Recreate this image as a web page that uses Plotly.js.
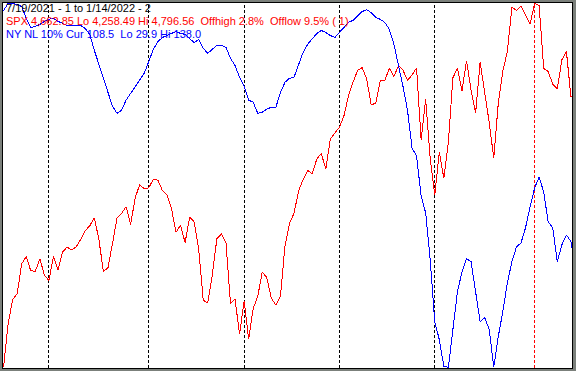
<!DOCTYPE html>
<html>
<head>
<meta charset="utf-8">
<script src="https://cdn.plot.ly/plotly-3.0.1.min.js"></script>
<style>html,body{margin:0;padding:0;background:#7b807b;}#chart{width:576px;height:371px;}
#chart .scatterlayer path, #chart .shapelayer path{shape-rendering:crispEdges;}</style>
</head>
<body>
<div id="chart"></div>
<script>
// S&P 500 daily closes, 7/19/2021 .. 1/14/2022 (one value per trading day)
const spx = [
  4258.49, 4323.06, 4358.69, 4367.48, 4411.79, 4422.30, 4401.46, 4400.64, 4419.15, 4395.26,
  4387.16, 4423.15, 4402.66, 4429.10, 4436.52, 4432.35, 4436.75, 4447.70, 4460.83, 4468.00,
  4479.71, 4448.08, 4400.27, 4405.80, 4441.67, 4479.53, 4486.23, 4496.19, 4470.00, 4509.37,
  4528.79, 4522.68,
  4524.09, 4536.95, 4535.43, 4520.03, 4514.07, 4493.28, 4458.58, 4468.73, 4443.05, 4480.70,
  4473.75, 4432.99, 4357.73, 4354.19, 4395.64, 4448.98, 4455.48, 4443.11, 4352.63, 4359.46,
  4307.54,
  4357.04, 4300.46, 4345.72, 4363.55, 4399.76, 4391.34, 4361.19, 4350.65, 4363.80, 4438.26,
  4471.37, 4486.46, 4519.63, 4536.19, 4549.78, 4544.90, 4566.48, 4574.79, 4551.68, 4596.42,
  4605.38,
  4613.67, 4630.65, 4660.57, 4680.06, 4697.53, 4701.70, 4685.25, 4646.71, 4649.27, 4682.85,
  4682.80, 4700.90, 4688.67, 4704.54, 4697.96, 4682.94, 4690.70, 4701.46, 4594.62, 4655.27,
  4567.00,
  4513.04, 4577.10, 4538.43, 4591.67, 4686.75, 4701.21, 4667.45, 4712.02, 4668.97, 4634.09,
  4709.85, 4668.67, 4620.64, 4568.02, 4649.23, 4696.56, 4725.79, 4791.19, 4786.35, 4793.06,
  4778.73, 4766.18,
  4796.56, 4793.54, 4700.58, 4696.05, 4677.03, 4670.29, 4713.07, 4726.35, 4659.03, 4662.85
];
// NYSE new lows, 10% smoothing (plotted on an inverted scale)
const nyNL = [
  32.0, 29.9, 29.9, 30.2, 30.8, 34.3, 37.0, 36.7, 36.1, 35.2,
  34.6, 34.3, 35.2, 35.8, 36.4, 36.4, 36.4, 36.4, 37.3, 39.1,
  43.8, 48.0, 51.8, 56.3, 60.4, 62.5, 61.6, 58.6, 56.6, 54.8,
  52.7, 50.6, 47.1, 43.5, 41.2, 40.0, 39.4, 38.8, 38.2, 38.8,
  39.1, 40.3, 41.5, 40.6, 43.2, 44.7, 43.5, 42.3, 42.3, 42.9,
  46.2, 48.3, 51.8, 54.5, 58.6, 59.2, 62.5, 62.2, 61.3, 60.7,
  60.7, 56.3, 53.3, 52.1, 51.8, 48.3, 44.4, 42.0, 40.3, 38.8,
  37.9, 38.5, 39.4, 40.0, 38.5, 37.0, 35.5, 34.9, 33.5, 32.3,
  31.7, 32.6, 34.0, 34.6, 35.5, 37.6, 42.0, 48.0, 54.5, 61.6,
  72.8, 75.2, 87.1, 92.1, 106.0, 124.4, 129.7, 137.6, 138.0, 126.7,
  115.5, 109.6, 105.7, 106.6, 114.9, 124.4, 123.2, 126.7, 137.9, 128.8,
  121.4, 112.8, 106.6, 102.2, 101.0, 96.5, 90.3, 84.7, 81.4, 85.9,
  94.8, 96.5, 106.6, 101.6, 98.6, 100.6, 108.5
];
// first trading day of each month (index into the series)
const monthStarts = [10, 32, 53, 74, 95];
const yearStarts = [117];

const headerLines = [
  {text: '7/19/2021 - 1 to 1/14/2022 - 2', color: '#000000'},
  {text: 'SPX 4,662.85 Lo 4,258.49 Hi 4,796.56  Offhigh 2.8%  Offlow 9.5% ( 1)', color: '#ff0000'},
  {text: 'NY NL 10% Cur 108.5  Lo 29.9 Hi 138.0', color: '#0000ff'}
];

const idx = spx.map((_, i) => i);

const traces = [
  {x: idx, y: nyNL, yaxis: 'y2', type: 'scatter', mode: 'lines',
   line: {color: '#0000ff', width: 1}, hoverinfo: 'skip'},
  {x: idx, y: spx, yaxis: 'y', type: 'scatter', mode: 'lines',
   line: {color: '#ff0000', width: 1}, hoverinfo: 'skip'}
];

const shapes = [];
monthStarts.forEach(m => shapes.push({type: 'line', xref: 'x', yref: 'paper', x0: m, x1: m, y0: 0, y1: 1,
  line: {color: '#000000', width: 1, dash: '3px,2px'}, layer: 'below'}));
yearStarts.forEach(m => shapes.push({type: 'line', xref: 'x', yref: 'paper', x0: m, x1: m, y0: 0, y1: 1,
  line: {color: '#ff0000', width: 1, dash: '3px,2px'}, layer: 'below'}));

const H = 365, T = 3;
const annotations = headerLines.map((l, k) => ({
  xref: 'paper', yref: 'paper', x: 2 / 569, xanchor: 'left',
  y: 1 - (1 + k * 13.2 - T) / H, yanchor: 'top',
  text: l.text, showarrow: false, borderpad: 0,
  font: {family: 'Liberation Sans, Arial, sans-serif', size: 11, color: l.color}
}));

const axisStyle = {showline: true, mirror: true, linecolor: '#000000', linewidth: 1,
  showgrid: false, zeroline: false, showticklabels: false, ticks: '', fixedrange: true};

const layout = {
  width: 576, height: 371,
  margin: {l: 3, r: 4, t: 3, b: 3, pad: 0},
  paper_bgcolor: '#7b807b', plot_bgcolor: '#ffffff',
  showlegend: false,
  xaxis: Object.assign({range: [-0.121, 125.24]}, axisStyle),
  yaxis: Object.assign({range: [4257.75, 4797.30]}, axisStyle),
  yaxis2: {overlaying: 'y', range: [138.15, 29.75], visible: false, fixedrange: true},
  shapes: shapes,
  annotations: annotations
};

Plotly.newPlot('chart', traces, layout, {displayModeBar: false, staticPlot: true});
</script>
</body>
</html>
